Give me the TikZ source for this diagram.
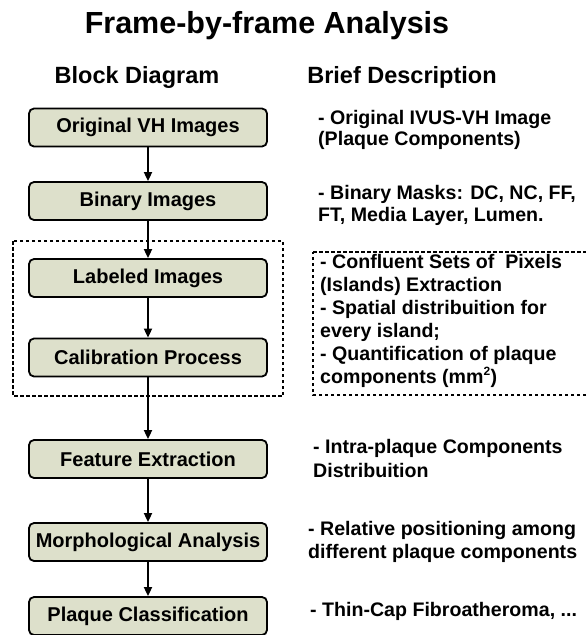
\documentclass[tikz,border=0pt]{standalone}
\usepackage{fontspec}
\setmainfont{Liberation Sans}
\usetikzlibrary{arrows.meta}
\definecolor{boxfill}{HTML}{DDE0CB}
\tikzset{
  stepbox/.style={draw=black, line width=1.8pt, rounded corners=5pt, fill=boxfill,
    minimum width=238pt, minimum height=38pt, inner sep=0pt,
    font=\fontsize{20}{22}\selectfont\bfseries},
  desc/.style={anchor=base west, align=left, inner sep=0pt,
    font=\fontsize{19.6}{#1}\selectfont\bfseries},
  desc/.default=22,
  conn/.style={line width=1.8pt, -{Triangle[length=9pt,width=8pt]}},
  groupbox/.style={draw=black, line width=1.7pt, dash pattern=on 3.5pt off 2.5pt},
  heading/.style={anchor=base, inner sep=0pt, font=\fontsize{23.5}{26}\selectfont\bfseries}
}
\begin{document}
\begin{tikzpicture}[x=1pt,y=-1pt]
\useasboundingbox (0,0) rectangle (587,635);
\node[anchor=base, inner sep=0pt, font=\fontsize{30.5}{34}\selectfont\bfseries] (title) at (267,33.5) {Frame-by-frame Analysis};
\node[heading] (hblock) at (137,83.3) {Block Diagram};
\node[heading] (hdesc) at (402,83.3) {Brief Description};

\node[stepbox] (orig) at (148,127.5) {Original VH Images};
\node[stepbox] (bin) at (148,201) {Binary Images};
\node[stepbox] (lab) at (148,278) {Labeled Images};
\node[stepbox] (cal) at (148,357.5) {Calibration Process};
\node[stepbox] (feat) at (148,459) {Feature Extraction};
\node[stepbox] (morph) at (148,542) {Morphological Analysis};
\node[stepbox] (plaq) at (148,616) {Plaque Classification};

\draw[groupbox] (13,241) rectangle (283,396);
\draw[groupbox] (313,252) -- (586,252) (586,395) -- (313,395) -- (313,252);

\draw[conn] (orig) -- (bin);
\draw[conn] (bin) -- (lab);
\draw[conn] (lab) -- (cal);
\draw[conn] (cal) -- (feat);
\draw[conn] (feat) -- (morph);
\draw[conn] (morph) -- (plaq);

\node[desc=20.7] (d1) at (318,145) {- Original IVUS-VH Image\\(Plaque Components)};
\node[desc=21.7] (d2) at (318,221) {- Binary Masks: DC, NC, FF,\\FT, Media Layer, Lumen.};
\node[desc=23] (d3) at (320,383.3) {- Confluent Sets of \ Pixels\\(Islands) Extraction\\- Spatial distribuition for\\every island;\\- Quantification of plaque\\components (mm\textsuperscript{\fontsize{12}{12}\selectfont 2})};
\node[desc=23.5] (d4) at (313,477) {- Intra-plaque Components\\Distribuition};
\node[desc=23] (d5) at (308,558) {- Relative positioning among\\different plaque components};
\node[desc] (d6) at (310,616.5) {- Thin-Cap Fibroatheroma, ...};
\end{tikzpicture}
\end{document}
